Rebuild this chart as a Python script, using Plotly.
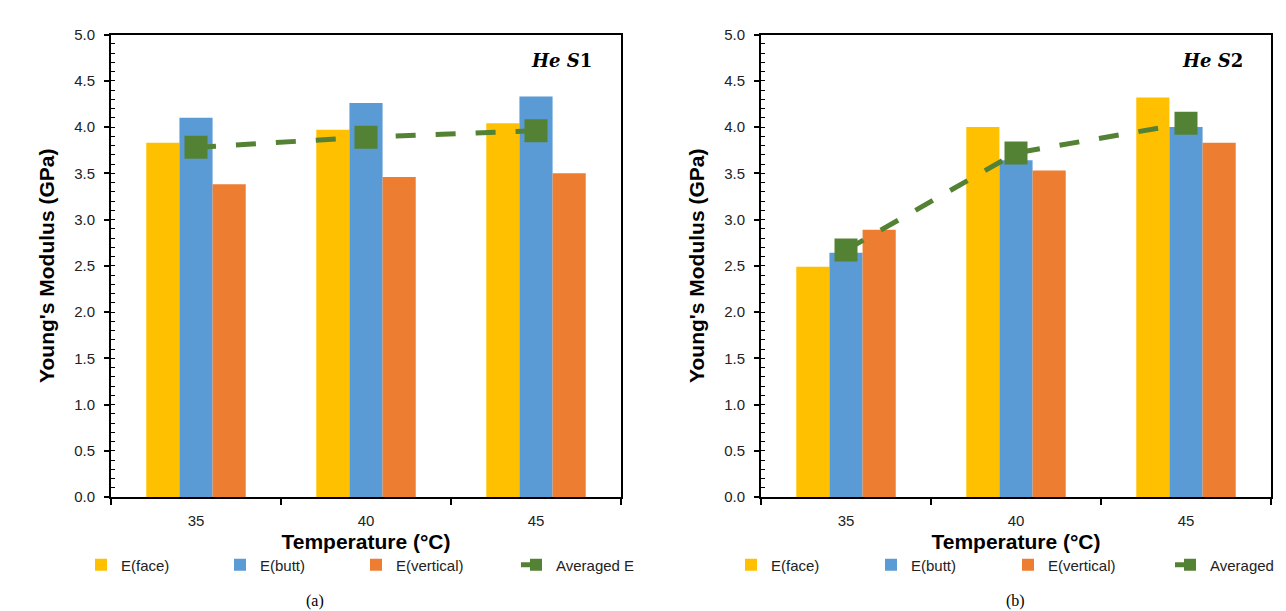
import plotly.graph_objects as go

categories = ["35", "40", "45"]

# Panel (a) He S1
s1_face = [3.83, 3.97, 4.04]
s1_butt = [4.10, 4.26, 4.33]
s1_vert = [3.38, 3.46, 3.50]
s1_avg = [3.78, 3.89, 3.96]

# Panel (b) He S2
s2_face = [2.49, 4.00, 4.32]
s2_butt = [2.64, 3.64, 4.00]
s2_vert = [2.89, 3.53, 3.83]
s2_avg = [2.67, 3.72, 4.04]

series_names = ["E(face)", "E(butt)", "E(vertical)", "Averaged E"]
colors = ["#FFC000", "#5B9BD5", "#ED7D31", "#548235"]

W, H = 1286, 611
OFF = 8  # page body margin offset
FONT = "Liberation Sans, Arial, sans-serif"

def px(x):
    return (x - OFF) / W

def py(y):
    return 1 - (y - OFF) / H

# screen x where each legend text starts (panel a, panel b)
legend_text_x = [[121, 260, 396, 556], [771, 911, 1048, None]]

fig = go.Figure()

panels = [
    (s1_face, s1_butt, s1_vert, s1_avg, "x", "y"),
    (s2_face, s2_butt, s2_vert, s2_avg, "x2", "y2"),
]

legends = {}
k = 1
for p, (face, butt, vert, avg, xa, ya) in enumerate(panels):
    for i, (vals, name, col) in enumerate(zip([face, butt, vert], series_names[:3], colors[:3])):
        k += 1
        lg = f"legend{k}"
        fig.add_trace(go.Bar(
            x=categories, y=vals, name=name, marker_color=col,
            marker_line_width=0, xaxis=xa, yaxis=ya, legend=lg, showlegend=True,
        ))
        legends[lg] = legend_text_x[p][i]
    k += 1
    lg = f"legend{k}"
    fig.add_trace(go.Scatter(
        x=categories, y=avg, name=series_names[3], mode="lines+markers",
        line=dict(color=colors[3], width=5, dash="20px,20px"),
        marker=dict(symbol="square", size=23, color=colors[3]),
        xaxis=xa, yaxis=ya, legend=lg, showlegend=True,
    ))
    legends[lg] = legend_text_x[p][3]

ydom = [py(497), py(34.5)]
x1dom = [px(111), px(621)]
x2dom = [px(761), px(1271)]

def xaxis(dom, anchor):
    return dict(
        domain=dom, anchor=anchor, type="category", automargin=False,
        showline=True, linecolor="black", linewidth=2, mirror=True,
        ticks="outside", ticklen=6, tickwidth=1.5, tickcolor="black",
        tickson="boundaries", showgrid=False, ticklabelstandoff=9,
        tickfont=dict(family=FONT, size=15, color="#222"),
        title=dict(text="<b>Temperature (°C)</b>", standoff=6,
                   font=dict(family=FONT, size=21, color="black")),
    )

def yaxis(anchor):
    return dict(
        domain=ydom, anchor=anchor, range=[0, 5], dtick=0.5, tickformat=".1f",
        automargin=False, ticklabelstandoff=6,
        showline=True, linecolor="black", linewidth=2, mirror=True,
        ticks="outside", ticklen=5, tickwidth=1.5, tickcolor="black",
        minor=dict(dtick=0.1, ticks="inside", ticklen=4, tickwidth=1, tickcolor="black"),
        showgrid=False, zeroline=False,
        tickfont=dict(family=FONT, size=15, color="#222"),
        title=dict(text="<b>Young's Modulus (GPa)</b>", standoff=14,
                   font=dict(family=FONT, size=21, color="black")),
    )

layout_legends = {}
for lg, tx in legends.items():
    d = dict(
        orientation="h", y=py(565), yanchor="middle",
        font=dict(family=FONT, size=15, color="#222"),
        bgcolor="rgba(0,0,0,0)", itemwidth=30, itemsizing="constant",
    )
    if tx is None:
        d.update(x=1, xanchor="right")
    else:
        d.update(x=px(tx - 40), xanchor="left")
    layout_legends[lg] = d

fig.update_layout(
    width=W, height=H, margin=dict(l=0, r=0, t=0, b=0),
    paper_bgcolor="white", plot_bgcolor="white", showlegend=True,
    barmode="group", bargap=0.415, bargroupgap=0,
    xaxis=xaxis(x1dom, "y"), yaxis=yaxis("x"),
    xaxis2=xaxis(x2dom, "y2"), yaxis2=yaxis("x2"),
    font=dict(family=FONT),
    annotations=[
        dict(text="<b><i>He</i> <i>S</i>1</b>", x=px(561), y=py(60), xref="paper", yref="paper",
             xanchor="center", yanchor="middle", showarrow=False,
             font=dict(family="DejaVu Serif, serif", size=18, color="black")),
        dict(text="<b><i>He</i> <i>S</i>2</b>", x=px(1212), y=py(60), xref="paper", yref="paper",
             xanchor="center", yanchor="middle", showarrow=False,
             font=dict(family="DejaVu Serif, serif", size=18, color="black")),
        dict(text="(a)", x=px(315), y=py(601), xref="paper", yref="paper",
             xanchor="center", yanchor="middle", showarrow=False,
             font=dict(family="Liberation Serif, serif", size=16, color="black")),
        dict(text="(b)", x=px(1015), y=py(601), xref="paper", yref="paper",
             xanchor="center", yanchor="middle", showarrow=False,
             font=dict(family="Liberation Serif, serif", size=16, color="black")),
    ],
    **layout_legends,
)

fig.write_html("out.html")
